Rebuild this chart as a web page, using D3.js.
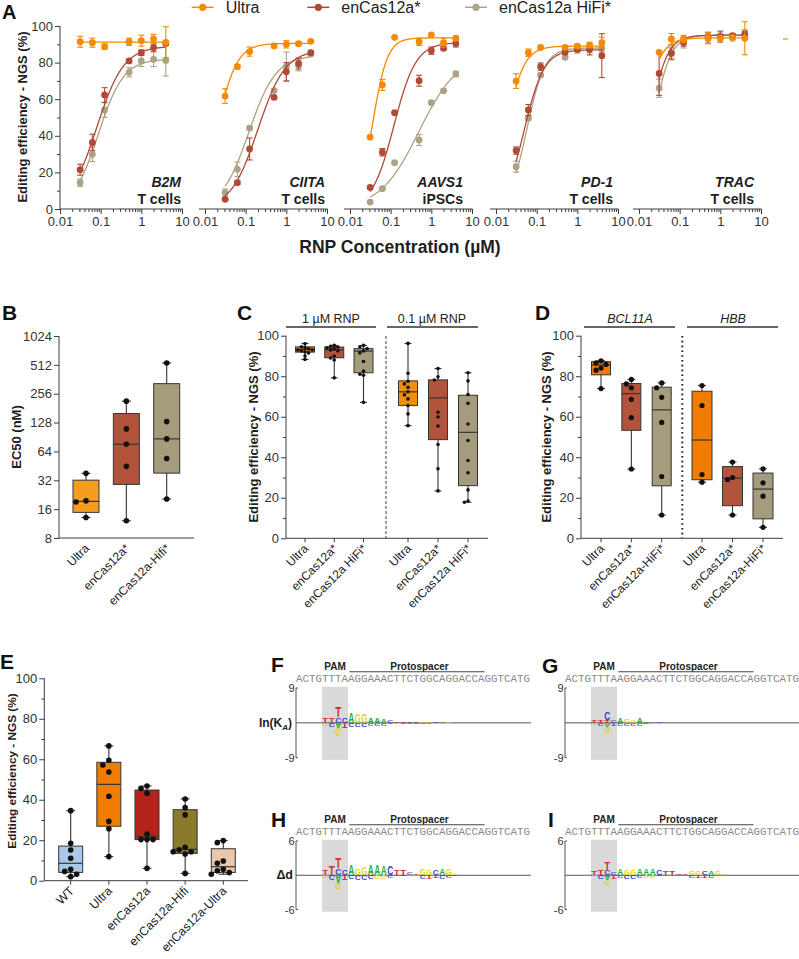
<!DOCTYPE html>
<html><head><meta charset="utf-8">
<script src="https://cdnjs.cloudflare.com/ajax/libs/d3/7.8.5/d3.min.js"></script>
<style>body{margin:0;background:#fff}svg{display:block}</style>
</head><body>
<script>
// ================= DATA =================
// Panel A
const concentrations = [0.03125, 0.0625, 0.125, 0.5, 1, 2, 4];
const seriesNames = ["Ultra", "enCas12a*", "enCas12a HiFi*"];
const targets = ["B2M", "CIITA", "AAVS1", "PD-1", "TRAC"];
const cellTypes = ["T cells", "T cells", "iPSCs", "T cells", "T cells"];
const b2mMean = [[91.4,90.9,88.7,91.4,92.0,92.9,91.1],[21.5,36.4,62.3,80.9,85.4,88.2,90.5],[14.4,29.9,54.1,74.7,80.9,81.8,81.2]];
const b2mErr  = [[3,2.5,1.5,2,3,2.5,8.5],[3,4.5,4,1,1.5,2,1],[2,4,4,2.5,3,4,8.5]];
const ciitaMean = [[61.7,77.8,86.0,89.1,90.0,90.3,91.6],[5.3,14.4,32.8,61.0,75.0,79.5,85.4],[9.0,21.7,44.2,64.7,77.8,78.5,84.7]];
const ciitaErr  = [[4,1,2.5,1,2,1,0.5],[0.5,1,6,1,5,3,1],[2,4,1,1,8,3,1]];
const aavs1Mean = [[39.3,67.8,93.8,91.4,95.2,90.9,93.3],[11.8,31.0,52.6,70.1,86.5,87.8,90.5],[3.8,11.1,25.3,37.7,58.1,64.6,73.8]];
const aavs1Err  = [[0.5,3,0.5,2,0.5,2.5,1],[0.5,2,0.5,3,2,1,2],[0.5,0.5,0.5,3,0.5,0.5,1.5]];
const pd1Mean = [[69.9,85.4,88.3,88.3,89.0,89.6,90.9],[31.9,54.1,77.8,85.6,87.2,87.2,83.8],[23.1,49.6,73.2,82.9,87.2,87.4,87.8]];
const pd1Err  = [[4,2,0.5,0.5,1,1.5,3],[2,3,2,1,1,3,12],[3,1,1,1,2,2,2]];
const tracMean = [[85.6,92.9,92.9,93.3,93.3,93.8,93.3],[74.1,85.0,91.0,93.6,94.2,94.7,95.1],[66.0,85.4,91.0,93.8,94.2,93.8,96.0]];
const tracErr  = [[0.5,3,2,3,1,1,9],[12,3,2,3,3,1,2],[5,4,3,2,2,2,2]];
// fitted dose-response parameters [bottom, top, EC50 (uM), hill]
const b2mFit   = [[91.2,91.2,0.1,1],[0,89,0.08,1.3],[0,82,0.088,1.4]];
const ciitaFit = [[0,90.5,0.02,1.8],[0,87,0.2,1.3],[0,84,0.12,1.3]];
const aavs1Fit = [[0,93.5,0.036,2.4],[0,91,0.12,1.6],[0,85,0.5,0.9]];
const pd1Fit   = [[0,89,0.018,2],[0,87,0.05,1.8],[0,88,0.058,2]];
const tracFit  = [[0,93.5,0.012,2],[0,95,0.018,2],[0,95,0.022,2]];

// Panel B (EC50, nM): [min, q1, median, q3, max]
const bCats = ["Ultra", "enCas12a*", "enCas12a-Hifi*"];
const bStats = [[13.1,14.8,19.3,32.1,37.8],[12.1,29,76,159,214],[20.4,38,86.5,326,535]];
const bPoints = [[37.8,19.5,19,13.1],[214,110,76,44.7,12.1],[535,131,86.5,54,20.4]];
const bTicks = [8,16,32,64,128,256,512,1024];

// Panel C
const cCats = ["Ultra", "enCas12a*", "enCas12a HiFi*"];
const cGroups = ["1 µM RNP", "0.1 µM RNP"];
const c1Stats = [[88.3,91.9,93.2,94.5,96.2],[79.2,89.1,93,94.4,95.2],[67.1,81.7,92.4,93.6,95.2]];
const c1Points = [[96,94.5,94,93.5,93,93,92.5,92,91.5,90,88.3],[95.2,94.8,94.4,94,93.5,93,92.5,90,89,88,79.2],[95.2,94.5,93.6,92.5,91.5,87.3,82.5,81,80.5,67.1]];
const c2Stats = [[55.6,65.5,72.3,77.7,96.2],[23.4,48.7,69.3,78.2,83.8],[17.8,26,52.3,70.6,81.7]];
const c2Points = [[96.2,81.5,77.5,76.2,74.5,72.3,70.8,68.8,65.5,61.4,55.6],[83.8,79.7,78.1,62.2,59.9,55.4,46.3,34.3,23.4],[81.7,77.7,71,66.6,56.4,48.3,38.4,32.3,23.9,18.4,17.8]];

// Panel D
const dCats = ["Ultra", "enCas12a*", "enCas12a-HiFi*"];
const dGroups = ["BCL11A", "HBB"];
const d1Stats = [[73.9,80.7,85.5,87.2,87.6],[34.2,53.3,71.4,76.4,78.4],[11.5,25.9,63.4,74.6,76.7]];
const d1Points = [[87.6,86.6,85.8,84,83,73.9],[78.4,76.2,74.3,68.6,59.6,34.2],[76.7,74.3,69.6,57.2,30.5,11.5]];
const d2Stats = [[27.7,28.9,48.5,72.6,75.4],[11.5,16.1,29.7,35.4,37.6],[5.4,9.6,24.3,32.2,34.3]];
const d2Points = [[75.4,65.5,31.5,27.7],[37.6,30,29,11.5],[34.3,27.4,20.8,5.4]];

// Panel E
const eCats = ["WT", "Ultra", "enCas12a", "enCas12a-Hifi", "enCas12a-Ultra"];
const eStats = [[2,4.1,8.6,17.1,34.6],[11.9,26.9,47.6,58.5,66.6],[6.1,20.3,21.9,44.8,46.8],[3.6,13.5,15.5,35.1,40.4],[3.2,4.1,6.9,15.8,19.8]];
const ePoints = [[34.6,18.5,15.2,11.1,5.6,4.6,3.2,2],[66.6,59.5,57.2,53.7,41.7,29.3,25.7,11.9],[46.8,45.6,43.2,23.1,20.3,20.3,20.3,6.1],[40.4,36.1,32.5,16.5,15.3,14.3,14.3,13.2,3.6],[19.8,18.8,9.7,8.6,5.6,4.9,4,3.2]];

// Panels F-I (sequence logos) : [position, letter, height]
const sequence = "ACTGTTTAAGGAAACTTCTGGCAGGACCAGGTCATG";
const logoFUp = [[4,"T",1.2],[5,"T",1.4],[6,"C",1.4],[6,"T",2.8],[7,"C",1.4],[8,"A",2.6],[9,"G",2.5],[10,"G",2.2],[11,"A",1.5],[12,"A",1.2],[13,"A",1.0],[14,"C",0.6],[15,"T",0.4],[16,"T",0.35],[17,"C",0.3],[18,"T",0.3],[19,"G",0.3],[20,"G",0.3],[21,"C",0.25],[22,"A",0.3],[23,"G",0.25]];
const logoFDown = [[4,"G",0.8],[5,"C",1.0],[6,"A",1.4],[6,"G",2.0],[7,"T",1.2],[8,"C",0.9],[9,"C",1.0],[10,"C",0.9],[11,"C",0.8],[12,"C",0.6],[13,"C",0.5],[14,"T",0.3],[15,"G",0.25],[16,"C",0.25],[17,"T",0.2],[18,"C",0.2],[19,"C",0.2],[20,"T",0.2]];
const logoGUp = [[4,"T",0.6],[5,"T",0.8],[6,"T",0.8],[6,"C",2.0],[7,"C",0.5],[8,"A",1.3],[9,"G",1.0],[10,"G",0.8],[11,"A",1.3],[12,"A",0.4],[13,"A",0.3],[14,"C",0.2]];
const logoGDown = [[4,"G",0.5],[5,"C",0.6],[6,"A",1.0],[6,"G",1.8],[7,"T",0.6],[8,"C",0.5],[9,"C",0.7],[10,"C",0.6],[11,"C",0.5],[12,"C",0.3]];
const logoHUp = [[4,"T",0.9],[5,"T",1.5],[6,"C",1.2],[6,"T",1.8],[7,"C",0.9],[8,"A",1.8],[9,"G",1.1],[10,"G",1.35],[11,"A",1.8],[12,"A",1.8],[13,"A",1.7],[14,"C",1.6],[15,"T",0.9],[16,"T",0.9],[17,"C",0.4],[18,"T",0.3],[19,"G",1.2],[20,"G",1.0],[21,"C",0.8],[22,"A",1.1],[23,"G",1.1],[24,"G",0.3]];
const logoHDown = [[4,"G",0.4],[5,"C",0.9],[6,"A",1.3],[6,"G",1.2],[7,"T",1.0],[8,"C",0.7],[9,"C",0.8],[10,"C",0.8],[11,"C",0.7],[12,"G",0.6],[13,"G",0.6],[14,"C",0.4],[15,"T",0.3],[16,"C",0.3],[17,"G",0.3],[18,"G",0.3],[19,"C",0.6],[20,"T",0.6],[21,"T",0.5],[22,"C",0.6],[23,"C",0.5],[24,"T",0.2]];
const logoIUp = [[4,"T",0.6],[5,"T",0.9],[6,"C",1.0],[6,"T",1.4],[7,"C",0.5],[8,"A",1.2],[9,"G",0.9],[10,"G",0.9],[11,"A",1.2],[12,"A",1.2],[13,"A",1.1],[14,"C",1.0],[15,"T",0.6],[16,"T",0.6],[17,"C",0.3],[18,"T",0.2],[19,"G",0.6],[20,"G",0.7],[21,"C",0.6],[22,"A",0.7],[23,"G",0.7],[24,"G",0.2]];
const logoIDown = [[4,"G",0.3],[5,"C",0.6],[6,"A",1.0],[6,"G",0.6],[7,"T",0.6],[8,"C",0.5],[9,"C",0.6],[10,"C",0.6],[11,"C",0.5],[12,"G",0.4],[13,"G",0.4],[14,"C",0.3],[19,"C",0.4],[20,"T",0.4],[21,"T",0.4],[22,"C",0.4]];

// ================= STYLE =================
const FONT = '"Liberation Sans", Arial, Helvetica, sans-serif';
const INK = "#1e1e1e", TICK = "#333", AX = "#3c3c3c", BOXLINE = "#353535";
const aColors = ["#f38a00", "#b04a36", "#aba383"];
const letterColor = {A:"#1faf3c", C:"#3a3fc8", G:"#e4d21c", T:"#d32f2a"};
const letterAdv = {A:0.722, C:0.722, G:0.778, T:0.611};

const svg = d3.select("body").append("svg").attr("width",799).attr("height",959)
  .style("font-family", FONT);
svg.append("rect").attr("width",799).attr("height",959).attr("fill","#fff");

function txt(g, x, y, s, o={}) {
  const t = g.append("text").attr("x",x).attr("y",y).text(s)
    .attr("font-size",o.size||12).attr("fill",o.fill||INK)
    .attr("font-weight",o.weight||"normal").attr("font-style",o.style||"normal")
    .attr("text-anchor",o.anchor||"start").attr("font-family",o.family||FONT);
  if (o.transform) t.attr("transform",o.transform);
  return t;
}
function styleAxis(sel, fs) {
  sel.attr("font-family", FONT);
  sel.selectAll("path.domain").remove();
  sel.selectAll("line").attr("stroke",AX).attr("stroke-width",1);
  sel.selectAll("text").attr("font-size",fs).attr("fill",TICK);
}
function hline(g,x1,x2,y,c,w){ return g.append("line").attr("x1",x1).attr("x2",x2).attr("y1",y).attr("y2",y).attr("stroke",c||AX).attr("stroke-width",w||1); }
function vline(g,x,y1,y2,c,w){ return g.append("line").attr("x1",x).attr("x2",x).attr("y1",y1).attr("y2",y2).attr("stroke",c||AX).attr("stroke-width",w||1); }

// panel letters
[["A",2,18.5,20],["B",2,320,21],["C",237,320,21],["D",535,320,21],["E",0,669,21],["F",271,672,21],["G",542,673,21],["H",271,827,21],["I",548,827,21]]
  .forEach(([l,x,y,s]) => txt(svg,x,y,l,{size:s,weight:"bold",fill:"#111"}));

// ================= PANEL A =================
const aMeans = [b2mMean, ciitaMean, aavs1Mean, pd1Mean, tracMean];
const aErrs = [b2mErr, ciitaErr, aavs1Err, pd1Err, tracErr];
const aFits = [b2mFit, ciitaFit, aavs1Fit, pd1Fit, tracFit];
const aStarts = [60, 205, 350, 496, 639];
const aSpan = 122;
const aBase = 209, aTop = 26;
const aY = d3.scaleLinear().domain([0,100]).range([aBase,aTop]);
const gA = svg.append("g");
const hill = (p, x) => p[0] + (p[1]-p[0]) / (1 + Math.pow(p[2]/x, p[3]));
const minorLog = [];
[0.01,0.1,1].forEach(d => d3.range(2,10).forEach(k => minorLog.push(d*k)));
const labelRight = [181, 325, 463, 613, 754];

targets.forEach((t,i) => {
  const x = d3.scaleLog().domain([0.01,10]).range([aStarts[i], aStarts[i]+aSpan]);
  const g = gA.append("g");
  hline(g, i===0 ? aStarts[i] : aStarts[i]-6, aStarts[i]+aSpan+0.5, aBase);
  g.append("g").attr("transform",`translate(0,${aBase})`)
    .call(d3.axisBottom(x).tickValues([0.01,0.1,1,10]).tickSize(5).tickPadding(3).tickFormat(d3.format("~g")))
    .call(styleAxis, 13);
  g.append("g").attr("transform",`translate(0,${aBase})`)
    .call(d3.axisBottom(x).tickValues(minorLog).tickSize(3).tickFormat(() => ""))
    .call(styleAxis, 13);
  [2,1,0].forEach(s => {
    const col = aColors[s];
    const fit = aFits[i][s];
    const lo = Math.log10(concentrations[0]), hi = Math.log10(concentrations[concentrations.length-1]);
    const xs = d3.range(0, 121).map(k => Math.pow(10, lo + k/120*(hi-lo)));
    g.append("path").attr("d", d3.line().x(d => x(d)).y(d => aY(hill(fit,d)))(xs))
      .attr("fill","none").attr("stroke",col).attr("stroke-width",1.3);
    concentrations.forEach((c,k) => {
      const m = aMeans[i][s][k], e = aErrs[i][s][k];
      const cx = x(c);
      vline(g, cx, aY(m-e), aY(m+e), col, 1.1);
      hline(g, cx-3, cx+3, aY(m-e), col, 1.1);
      hline(g, cx-3, cx+3, aY(m+e), col, 1.1);
      g.append("circle").attr("cx",cx).attr("cy",aY(m)).attr("r",3.4).attr("fill",col);
    });
  });
  txt(g, labelRight[i], 186.5, t, {size:14, weight:"bold", style:"italic", anchor:"end"});
  txt(g, labelRight[i], 203.5, cellTypes[i], {size:14, weight:"bold", anchor:"end"});
});
vline(gA, 60, aTop, aBase);
gA.append("g").attr("transform","translate(60,0)")
  .call(d3.axisLeft(aY).tickValues([0,20,40,60,80,100]).tickSize(5).tickPadding(2)).call(styleAxis,13);
gA.append("g").attr("transform","translate(60,0)")
  .call(d3.axisLeft(aY).tickValues([10,30,50,70,90]).tickSize(3).tickFormat(() => "")).call(styleAxis,13);
txt(gA, 0, 0, "Editing efficiency - NGS (%)", {size:13, weight:"bold", anchor:"middle", transform:"translate(26.5,117) rotate(-90)"});
txt(gA, 400, 253, "RNP Concentration (µM)", {size:17.5, weight:"bold", anchor:"middle"});
const legX = [202.7, 318.3, 476];
seriesNames.forEach((n,s) => {
  hline(gA, legX[s]-11, legX[s]+11, 7.3, aColors[s], 1.5);
  gA.append("circle").attr("cx",legX[s]).attr("cy",7.3).attr("r",3.6).attr("fill",aColors[s]);
  txt(gA, legX[s]+23, 12.8, n, {size:16, fill:"#222"});
});
hline(gA, 783, 788, 39, aColors[0], 1.2);

// ================= BOX PLOT HELPERS =================
function swarm(vals, y, r, step) {
  const placed = [];
  const offs = [0,-step,step,-2*step,2*step,-3*step,3*step];
  return vals.map(v => {
    const py = y(v);
    let dx = 0;
    for (const o of offs) {
      if (placed.every(p => Math.hypot(p[0]-o, p[1]-py) >= 2*r*0.95)) { dx = o; break; }
    }
    placed.push([dx,py]);
    return [dx,py];
  });
}
function drawBoxes(g, cats, xs, stats, pts, colors, y, o) {
  cats.forEach((c,i) => {
    const cx = xs(c);
    const [mn,q1,md,q3,mx] = stats[i];
    vline(g, cx, y(mn), y(mx), BOXLINE, 1.1);
    hline(g, cx-o.cap/2, cx+o.cap/2, y(mn), BOXLINE, 1.1);
    hline(g, cx-o.cap/2, cx+o.cap/2, y(mx), BOXLINE, 1.1);
    g.append("rect").attr("x",cx-o.bw/2).attr("width",o.bw).attr("y",y(q3)).attr("height",y(q1)-y(q3))
      .attr("fill",colors[i]).attr("stroke",BOXLINE).attr("stroke-width",1);
    hline(g, cx-o.bw/2, cx+o.bw/2, y(md), BOXLINE, 1.2);
    swarm(pts[i], y, o.r, o.step).forEach(([dx,py]) =>
      g.append("circle").attr("cx",cx+dx).attr("cy",py).attr("r",o.r).attr("fill","#111"));
  });
}
function rotLabels(g, cats, xs, axisY, fs) {
  cats.forEach(c => txt(g, 0, 0, c, {size:fs, fill:"#222", anchor:"end",
    transform:`translate(${xs(c)+4},${axisY+11}) rotate(-45)`}));
}
function linY(g, y, x0, fs) {
  vline(g, x0, y.range()[1], y.range()[0]);
  g.append("g").attr("transform",`translate(${x0},0)`)
    .call(d3.axisLeft(y).tickValues([0,20,40,60,80,100]).tickSize(5).tickPadding(2)).call(styleAxis,fs);
  g.append("g").attr("transform",`translate(${x0},0)`)
    .call(d3.axisLeft(y).tickValues([10,30,50,70,90]).tickSize(3).tickFormat(() => "")).call(styleAxis,fs);
}

// ================= PANEL B =================
const gB = svg.append("g");
const bY = d3.scaleLog().base(2).domain([8,1024]).range([538,336]);
const bX = d3.scalePoint().domain(bCats).range([86,166.7]);
vline(gB, 59, 336, 538);
hline(gB, 59, 194, 538);
gB.append("g").attr("transform","translate(59,0)")
  .call(d3.axisLeft(bY).tickValues(bTicks).tickSize(5).tickPadding(2).tickFormat(d3.format("d"))).call(styleAxis,13);
drawBoxes(gB, bCats, bX, bStats, bPoints, ["#f59d1f","#b4533b","#a59b7d"], bY, {bw:26, cap:9, r:2.8, step:5});
rotLabels(gB, bCats, bX, 538, 12);
txt(gB, 0, 0, "EC50 (nM)", {size:13, weight:"bold", anchor:"middle", transform:"translate(21,437) rotate(-90)"});

// ================= PANEL C =================
const gC = svg.append("g");
const cY = d3.scaleLinear().domain([0,100]).range([538.3,335.7]);
const cX1 = d3.scalePoint().domain(cCats).range([305,363.5]);
const cX2 = d3.scalePoint().domain(cCats).range([408,468]);
linY(gC, cY, 286, 13);
hline(gC, 286, 488, 538.3);
[cX1,cX2].forEach(xs => cCats.forEach(c => vline(gC, xs(c), 538.3, 542.3)));
gC.append("line").attr("x1",386).attr("x2",386).attr("y1",336).attr("y2",538)
  .attr("stroke","#444").attr("stroke-width",1).attr("stroke-dasharray","3,2");
const cCols = ["#f38b0c","#b4533b","#a59b7d"];
drawBoxes(gC, cCats, cX1, c1Stats, c1Points, cCols, cY, {bw:19, cap:7, r:1.8, step:3.6});
drawBoxes(gC, cCats, cX2, c2Stats, c2Points, cCols, cY, {bw:19, cap:7, r:1.8, step:3.6});
rotLabels(gC, cCats, cX1, 538.3, 12);
rotLabels(gC, cCats, cX2, 538.3, 12);
txt(gC, 331, 322.5, cGroups[0], {size:12.5, anchor:"middle", fill:"#222"});
hline(gC, 286, 376, 327, "#333", 1.3);
txt(gC, 432, 322.5, cGroups[1], {size:12.5, anchor:"middle", fill:"#222"});
hline(gC, 387, 478, 327, "#333", 1.3);
txt(gC, 0, 0, "Editing efficiency - NGS (%)", {size:13, weight:"bold", anchor:"middle", transform:"translate(257.5,437) rotate(-90)"});

// ================= PANEL D =================
const gD = svg.append("g");
const dY = cY;
const dX1 = d3.scalePoint().domain(dCats).range([601,661.7]);
const dX2 = d3.scalePoint().domain(dCats).range([702,763]);
linY(gD, dY, 581, 13);
hline(gD, 581, 783, 538.3);
[dX1,dX2].forEach(xs => dCats.forEach(c => vline(gD, xs(c), 538.3, 542.3)));
gD.append("line").attr("x1",682.3).attr("x2",682.3).attr("y1",336).attr("y2",538)
  .attr("stroke","#222").attr("stroke-width",2).attr("stroke-dasharray","1.6,3.2");
const dCols = ["#f07c00","#b4533b","#a59b7d"];
drawBoxes(gD, dCats, dX1, d1Stats, d1Points, dCols, dY, {bw:19, cap:8, r:2.6, step:5});
drawBoxes(gD, dCats, dX2, d2Stats, d2Points, dCols, dY, {bw:20, cap:8, r:2.6, step:5});
rotLabels(gD, dCats, dX1, 538.3, 12);
rotLabels(gD, dCats, dX2, 538.3, 12);
txt(gD, 630, 322.5, dGroups[0], {size:12.5, anchor:"middle", style:"italic", fill:"#222"});
hline(gD, 584, 675, 327, "#333", 1.3);
txt(gD, 733, 322.5, dGroups[1], {size:12.5, anchor:"middle", style:"italic", fill:"#222"});
hline(gD, 687, 778, 327, "#333", 1.3);
txt(gD, 0, 0, "Editing efficiency - NGS (%)", {size:13, weight:"bold", anchor:"middle", transform:"translate(551,437) rotate(-90)"});

// ================= PANEL E =================
const gE = svg.append("g");
const eY = d3.scaleLinear().domain([0,100]).range([880.7,678.3]);
const eX = d3.scalePoint().domain(eCats).range([70.7,223.3]);
linY(gE, eY, 44.3, 13);
hline(gE, 44.3, 248, 880.7);
eCats.forEach(c => vline(gE, eX(c), 880.7, 884.7));
drawBoxes(gE, eCats, eX, eStats, ePoints, ["#a9c8ea","#f07c00","#b3231c","#8c7a2c","#e9c7aa"], eY, {bw:24, cap:9, r:2.8, step:6});
rotLabels(gE, eCats, eX, 880.7, 12.3);
txt(gE, 0, 0, "Editing efficiency - NGS (%)", {size:11.8, weight:"bold", anchor:"middle", transform:"translate(16,771) rotate(-90)"});

// ================= LOGOS F-I =================
const CW = 6.5;
function drawLetterStack(g, y, x0, data, dir) {
  const stack = {};
  data.forEach(([pos, L, h]) => {
    const base = stack[pos] || 0;
    const xl = x0 + pos*CW + 0.25;
    const w = CW - 0.5;
    const sx = w / (letterAdv[L]*20);
    if (dir > 0) {
      const yb = y(base), yt = y(base+h);
      const sy = (yb-yt) / (0.716*20);
      g.append("text").text(L).attr("font-size",20).attr("font-weight","bold").attr("fill",letterColor[L])
        .attr("font-family",FONT).attr("transform",`translate(${xl},${yb}) scale(${sx},${sy})`);
    } else {
      const yt = y(-base), yb = y(-(base+h));
      const sy = (yb-yt) / (0.716*20);
      g.append("text").text(L).attr("font-size",20).attr("font-weight","bold").attr("fill",letterColor[L])
        .attr("font-family",FONT).attr("transform",`translate(${xl},${yt}) scale(${sx},${-sy})`);
    }
    stack[pos] = base + h;
  });
}
function logoPanel(cfg) {
  const g = svg.append("g");
  const y = d3.scaleLinear().domain([-cfg.lim, cfg.lim]).range([cfg.bottom, cfg.top]);
  const x0 = cfg.x0;
  g.append("rect").attr("x", x0+4*CW).attr("width", 4*CW).attr("y", cfg.top-1.3).attr("height", cfg.bottom-cfg.top+3.5).attr("fill","#d9d9d9");
  txt(g, x0+6*CW, cfg.top-18.5, "PAM", {size:10, weight:"bold", anchor:"middle", fill:"#222"});
  txt(g, x0+19*CW, cfg.top-18.5, "Protospacer", {size:10, weight:"bold", anchor:"middle", fill:"#222"});
  hline(g, x0+8.2*CW, x0+29*CW, cfg.top-16.3, "#444", 1.1);
  txt(g, x0, cfg.top-5.7, sequence, {size:10.8, family:'"Liberation Mono", "Courier New", monospace', fill:"#8a8a8a"})
    .attr("textLength", sequence.length*CW).attr("lengthAdjust","spacingAndGlyphs");
  hline(g, x0, cfg.zeroEnd, y(0), "#555", 1);
  vline(g, x0, cfg.top, cfg.bottom, "#555", 1);
  hline(g, x0, x0+2, cfg.top, "#555", 1);
  hline(g, x0, x0+2, cfg.bottom, "#555", 1);
  txt(g, x0-1.5, cfg.top+4, String(cfg.lim), {size:11, anchor:"end", fill:"#333"});
  txt(g, x0-1.5, cfg.bottom+4, "-"+cfg.lim, {size:11, anchor:"end", fill:"#333"});
  drawLetterStack(g, y, x0, cfg.up, 1);
  drawLetterStack(g, y, x0, cfg.down, -1);
  return g;
}
const gF = logoPanel({x0:296, top:688, bottom:757.7, lim:9, zeroEnd:531, up:logoFUp, down:logoFDown});
logoPanel({x0:565, top:688, bottom:757.7, lim:9, zeroEnd:799, up:logoGUp, down:logoGDown});
const gH = logoPanel({x0:296, top:841, bottom:909.5, lim:6, zeroEnd:531, up:logoHUp, down:logoHDown});
logoPanel({x0:565, top:841, bottom:909.5, lim:6, zeroEnd:799, up:logoIUp, down:logoIDown});
const lk = txt(gF, 292, 726.5, "ln(K", {size:12, weight:"bold", anchor:"end", fill:"#222"});
lk.append("tspan").attr("font-size",8).attr("font-style","italic").attr("dy",3).text("A");
lk.append("tspan").attr("dy",-3).text(")");
txt(gH, 293, 879, "Δd", {size:12.5, weight:"bold", anchor:"end", fill:"#222"});
</script>
</body></html>
